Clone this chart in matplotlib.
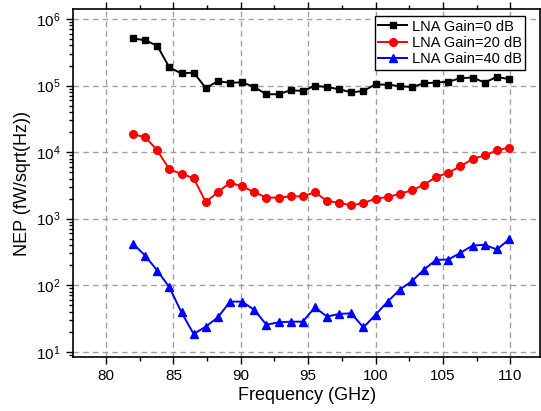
import matplotlib
matplotlib.use("Agg")
import matplotlib.pyplot as plt
from matplotlib.ticker import LogLocator, MultipleLocator, NullFormatter

plt.rcParams["font.family"] = ["Liberation Sans", "DejaVu Sans"]
plt.rcParams["mathtext.fontset"] = "custom"
plt.rcParams["mathtext.rm"] = "Liberation Sans"

freq = [82.0, 82.9, 83.8, 84.7, 85.6, 86.5, 87.4, 88.3, 89.2, 90.1, 91.0,
        91.9, 92.8, 93.7, 94.6, 95.5, 96.4, 97.3, 98.2, 99.1, 100.0, 100.9,
        101.8, 102.7, 103.6, 104.5, 105.4, 106.3, 107.2, 108.1, 109.0, 109.9]

nep_0db = [5.1e5, 4.8e5, 3.96e5, 1.87e5, 1.52e5, 1.57e5, 9.2e4, 1.16e5, 1.10e5,
           1.12e5, 9.5e4, 7.4e4, 7.4e4, 8.5e4, 8.3e4, 9.9e4, 9.5e4, 8.8e4,
           7.9e4, 8.3e4, 1.04e5, 1.03e5, 9.8e4, 9.5e4, 1.08e5, 1.11e5, 1.14e5,
           1.29e5, 1.32e5, 1.11e5, 1.35e5, 1.25e5]

nep_20db = [1.84e4, 1.69e4, 1.06e4, 5.5e3, 4.7e3, 4.07e3, 1.77e3, 2.5e3, 3.47e3,
            3.05e3, 2.5e3, 2.07e3, 2.07e3, 2.16e3, 2.16e3, 2.5e3, 1.84e3,
            1.74e3, 1.58e3, 1.71e3, 2.0e3, 2.11e3, 2.37e3, 2.66e3, 3.24e3,
            4.22e3, 4.91e3, 6.1e3, 7.9e3, 8.9e3, 1.06e4, 1.17e4]

nep_40db = [419, 279, 166, 93, 39, 18.5, 23.8, 32.9, 56.6, 56.6, 42.5, 25.5,
            27.6, 28.3, 28.3, 46.4, 33.7, 37, 37.8, 23.2, 36, 56.6, 85.9, 115,
            172, 240, 243, 306, 394, 404, 344, 486]

fig = plt.figure(figsize=(5.41, 4.11), dpi=100)
ax = fig.add_axes([0.1355, 0.1306, 0.8625, 0.8463])

ax.plot(freq, nep_0db, "-s", color="black", lw=1.4, ms=5, label="LNA Gain=0 dB")
ax.plot(freq, nep_20db, "-o", color="red", lw=1.4, ms=5.5, label="LNA Gain=20 dB")
ax.plot(freq, nep_40db, "-^", color="blue", lw=1.4, ms=6, label="LNA Gain=40 dB")

ax.set_yscale("log")
ax.set_xlim(77.57, 112.2)
ax.set_ylim(8.24, 1.39e6)

ax.xaxis.set_major_locator(MultipleLocator(5))
ax.xaxis.set_minor_locator(MultipleLocator(2.5))
ax.yaxis.set_major_locator(LogLocator(base=10, numticks=10))
ax.yaxis.set_minor_locator(LogLocator(base=10, subs=range(2, 10), numticks=10))
ax.yaxis.set_minor_formatter(NullFormatter())

ax.grid(True, which="major", color="#a0a0a0", ls=(0, (4, 3)), lw=1.0)

ax.tick_params(axis="both", which="both", direction="out", labelsize=11,
               top=True, right=False, width=1.0)
ax.tick_params(which="major", length=5)
ax.tick_params(which="minor", length=3)
ax.tick_params(axis="y", pad=4)

for s in ax.spines.values():
    s.set_linewidth(1.2)

ax.set_xlabel("Frequency (GHz)", fontsize=13, labelpad=3)
ax.set_ylabel("NEP (fW/sqrt(Hz))", fontsize=13, labelpad=4)

leg = ax.legend(loc="upper right", bbox_to_anchor=(0.975, 0.99), fontsize=10.5,
                frameon=True, fancybox=False, edgecolor="black",
                handlelength=2.0, borderpad=0.25, labelspacing=0.15,
                handletextpad=0.3, borderaxespad=0.2)
leg.get_frame().set_linewidth(1.0)
leg.get_frame().set_alpha(1)

fig.savefig("out.png", dpi=100)
